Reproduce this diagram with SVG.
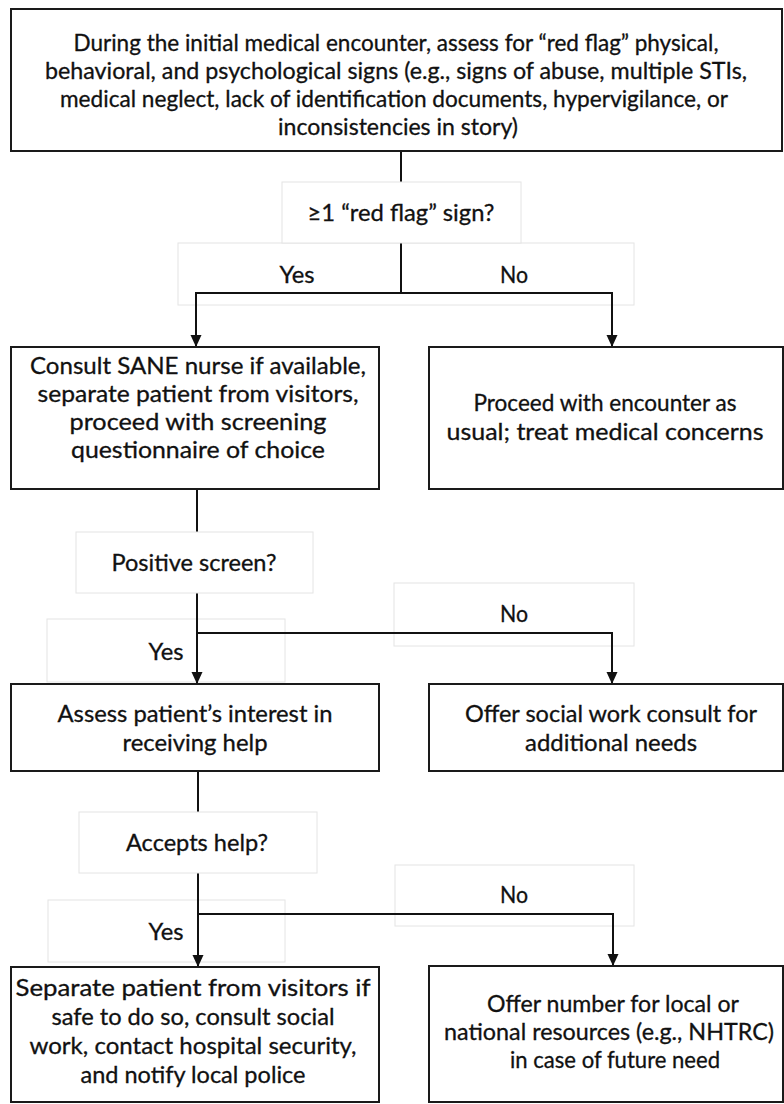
<svg xmlns="http://www.w3.org/2000/svg" width="784" height="1104" viewBox="0 0 784 1104">
<style>
  .box { fill: #ffffff; stroke: #1a1a1a; stroke-width: 2; }
  .lbl { fill: #ffffff; stroke: #e4e4e4; stroke-width: 1; }
  .t { font-family: "Lato", "Liberation Sans", sans-serif; font-size: 23px; fill: #111111; stroke: #111111; stroke-width: 0.3; text-anchor: middle; }
  .c { fill: none; stroke: #111111; stroke-width: 2; }
</style>
<defs>
  <marker id="ah" markerUnits="userSpaceOnUse" markerWidth="12" markerHeight="12" refX="12" refY="6" orient="auto" viewBox="0 0 12 12">
    <path d="M0,0.5 L12,6 L0,11.5 Z" fill="#111111"/>
  </marker>
</defs>

<rect width="784" height="1104" fill="#ffffff"/>

<!-- Yes/No branch labels (behind connectors) -->
<g id="label-yesno-1">
  <rect class="lbl" x="178" y="243" width="456" height="62"/>
  <text class="t" x="297" y="283" textLength="35" lengthAdjust="spacingAndGlyphs">Yes</text>
  <text class="t" x="514" y="283" textLength="28" lengthAdjust="spacingAndGlyphs">No</text>
</g>
<g id="label-no-2">
  <rect class="lbl" x="394" y="583" width="240" height="63"/>
  <text class="t" x="514" y="622" textLength="28" lengthAdjust="spacingAndGlyphs">No</text>
</g>
<g id="label-yes-2">
  <rect class="lbl" x="47" y="619" width="238" height="63"/>
  <text class="t" x="166" y="660" textLength="35" lengthAdjust="spacingAndGlyphs">Yes</text>
</g>
<g id="label-no-3">
  <rect class="lbl" x="395" y="865" width="239" height="61"/>
  <text class="t" x="514" y="903" textLength="28" lengthAdjust="spacingAndGlyphs">No</text>
</g>
<g id="label-yes-3">
  <rect class="lbl" x="48" y="900" width="237" height="62"/>
  <text class="t" x="166" y="940" textLength="35" lengthAdjust="spacingAndGlyphs">Yes</text>
</g>

<!-- Connectors -->
<g id="connectors">
  <path class="c" d="M401,151 V182"/>
  <path class="c" d="M401,243 V293 M196,293 H612"/>
  <path class="c" d="M196,292 V347" marker-end="url(#ah)"/>
  <path class="c" d="M612,292 V347" marker-end="url(#ah)"/>

  <path class="c" d="M197,489 V532"/>
  <path class="c" d="M197,593 V633 H612"/>
  <path class="c" d="M197,633 V684" marker-end="url(#ah)"/>
  <path class="c" d="M612,632 V684" marker-end="url(#ah)"/>

  <path class="c" d="M198,771 V812"/>
  <path class="c" d="M198,873 V914 H613"/>
  <path class="c" d="M198,914 V967" marker-end="url(#ah)"/>
  <path class="c" d="M613,913 V966" marker-end="url(#ah)"/>
</g>

<!-- Decision labels -->
<g id="q-redflag">
  <rect class="lbl" x="282" y="182" width="239" height="61"/>
  <text class="t" x="401" y="221" textLength="187" lengthAdjust="spacingAndGlyphs">≥1 “red flag” sign?</text>
</g>
<g id="q-positive">
  <rect class="lbl" x="76" y="532" width="237" height="61"/>
  <text class="t" x="194" y="571" textLength="165" lengthAdjust="spacingAndGlyphs">Positive screen?</text>
</g>
<g id="q-accepts">
  <rect class="lbl" x="79" y="812" width="238" height="61"/>
  <text class="t" x="197" y="851" textLength="142" lengthAdjust="spacingAndGlyphs">Accepts help?</text>
</g>

<!-- Process boxes -->
<g id="n-assess">
  <rect class="box" x="11" y="9" width="771" height="142"/>
  <text class="t" x="396" y="51" textLength="645" lengthAdjust="spacingAndGlyphs">During the initial medical encounter, assess for “red flag” physical,</text>
  <text class="t" x="396" y="79" textLength="702" lengthAdjust="spacingAndGlyphs">behavioral, and psychological signs (e.g., signs of abuse, multiple STIs,</text>
  <text class="t" x="394" y="107" textLength="668" lengthAdjust="spacingAndGlyphs">medical neglect, lack of identification documents, hypervigilance, or</text>
  <text class="t" x="398" y="135" textLength="240" lengthAdjust="spacingAndGlyphs">inconsistencies in story)</text>
</g>

<g id="n-consult">
  <rect class="box" x="11" y="347" width="368" height="142"/>
  <text class="t" x="198" y="374" textLength="336" lengthAdjust="spacingAndGlyphs">Consult SANE nurse if available,</text>
  <text class="t" x="198" y="402" textLength="321" lengthAdjust="spacingAndGlyphs">separate patient from visitors,</text>
  <text class="t" x="198" y="430" textLength="257" lengthAdjust="spacingAndGlyphs">proceed with screening</text>
  <text class="t" x="198" y="458" textLength="254" lengthAdjust="spacingAndGlyphs">questionnaire of choice</text>
</g>

<g id="n-proceed">
  <rect class="box" x="429" y="347" width="354" height="142"/>
  <text class="t" x="605" y="411" textLength="263" lengthAdjust="spacingAndGlyphs">Proceed with encounter as</text>
  <text class="t" x="605" y="440" textLength="317" lengthAdjust="spacingAndGlyphs">usual; treat medical concerns</text>
</g>

<g id="n-interest">
  <rect class="box" x="11" y="684" width="368" height="87"/>
  <text class="t" x="195" y="722" textLength="275" lengthAdjust="spacingAndGlyphs">Assess patient’s interest in</text>
  <text class="t" x="195" y="751" textLength="145" lengthAdjust="spacingAndGlyphs">receiving help</text>
</g>

<g id="n-socialwork">
  <rect class="box" x="429" y="684" width="354" height="87"/>
  <text class="t" x="611" y="722" textLength="292" lengthAdjust="spacingAndGlyphs">Offer social work consult for</text>
  <text class="t" x="611" y="751" textLength="172" lengthAdjust="spacingAndGlyphs">additional needs</text>
</g>

<g id="n-separate">
  <rect class="box" x="11" y="967" width="368" height="135"/>
  <text class="t" x="193" y="996" textLength="355" lengthAdjust="spacingAndGlyphs">Separate patient from visitors if</text>
  <text class="t" x="193" y="1025" textLength="283" lengthAdjust="spacingAndGlyphs">safe to do so, consult social</text>
  <text class="t" x="193" y="1054" textLength="327" lengthAdjust="spacingAndGlyphs">work, contact hospital security,</text>
  <text class="t" x="193" y="1083" textLength="225" lengthAdjust="spacingAndGlyphs">and notify local police</text>
</g>

<g id="n-resources">
  <rect class="box" x="429" y="966" width="354" height="136"/>
  <text class="t" x="613" y="1012" textLength="252" lengthAdjust="spacingAndGlyphs">Offer number for local or</text>
  <text class="t" x="609" y="1040" textLength="330" lengthAdjust="spacingAndGlyphs">national resources (e.g., NHTRC)</text>
  <text class="t" x="615" y="1068" textLength="210" lengthAdjust="spacingAndGlyphs">in case of future need</text>
</g>
</svg>
